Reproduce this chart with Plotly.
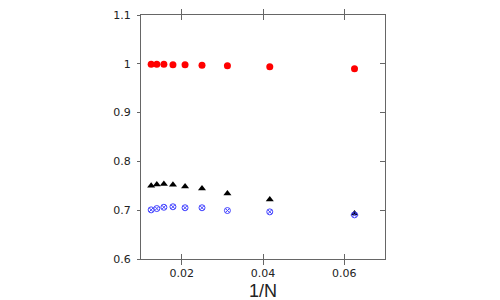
import plotly.graph_objects as go

N = [80, 72, 64, 56, 48, 40, 32, 24, 16]
inv_n = [1.0 / n for n in N]
red_vals = [0.999, 0.999, 0.999, 0.998, 0.998, 0.997, 0.996, 0.994, 0.990]
black_vals = [0.750, 0.7525, 0.7535, 0.752, 0.7485, 0.7445, 0.734, 0.722, 0.693]
blue_vals = [0.7007, 0.7034, 0.706, 0.707, 0.705, 0.705, 0.6993, 0.6966, 0.6904]

x_ticks = [0.02, 0.04, 0.06]
x_tick_text = ["0.02", "0.04", "0.06"]
y_ticks = [0.6, 0.7, 0.8, 0.9, 1.0, 1.1]
y_tick_text = ["0.6", "0.7", "0.8", "0.9", "1", "1.1"]
x_title = "1/N"

fig = go.Figure()
fig.add_trace(go.Scatter(x=inv_n, y=red_vals, mode="markers",
                         marker=dict(symbol="circle", size=7, color="#ff0000")))
fig.add_trace(go.Scatter(x=inv_n, y=black_vals, mode="markers",
                         marker=dict(symbol="triangle-up", size=7, color="#000000")))
fig.add_trace(go.Scatter(x=inv_n, y=blue_vals, mode="markers",
                         marker=dict(symbol="circle-x-open", size=6, color="#4444ff",
                                     line=dict(width=1, color="#4444ff"))))
# invisible trace to carry the right axis
fig.add_trace(go.Scatter(x=inv_n, y=red_vals, yaxis="y2", mode="markers",
                         marker=dict(opacity=0), hoverinfo="skip"))

axcol = "#666666"
fig.update_layout(
    width=500, height=300,
    margin=dict(l=133, r=123, t=7, b=49, autoexpand=False),
    paper_bgcolor="white", plot_bgcolor="white",
    showlegend=False,
    font=dict(family="DejaVu Sans", size=11, color="#222222"),
    xaxis=dict(range=[0.01, 0.07], tickvals=x_ticks, ticktext=x_tick_text,
               ticks="inside", ticklen=5, tickcolor=axcol, mirror="allticks",
               ticklabelstandoff=4,
               showline=True, linecolor=axcol, linewidth=1, showgrid=False, zeroline=False,
               automargin=False),
    yaxis=dict(range=[0.6, 1.1], tickvals=y_ticks, ticktext=y_tick_text,
               ticks="outside", ticklen=3, tickcolor=axcol, automargin=False,
               ticklabelstandoff=4,
               showline=True, linecolor=axcol, linewidth=1, showgrid=False, zeroline=False),
    yaxis2=dict(range=[0.6, 1.1], tickvals=y_ticks, overlaying="y", side="right",
                ticks="inside", ticklen=5, tickcolor=axcol, showticklabels=False,
                automargin=False,
                showline=True, linecolor=axcol, linewidth=1, showgrid=False, zeroline=False),
    annotations=[dict(text=x_title, xref="paper", yref="paper", x=0.5, y=-0.131,
                      xanchor="center", yanchor="middle", showarrow=False,
                      font=dict(family="Liberation Sans", size=18, color="#222222"))],
)

fig.write_html("out.html")
